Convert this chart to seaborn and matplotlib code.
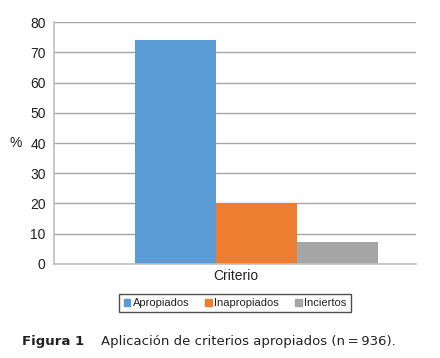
import numpy as np
import pandas as pd
import seaborn as sns
import matplotlib.pyplot as plt

# datos
CATEGORIA = ["Criterio"]
GRUPOS = ["Apropiados", "Inapropiados", "Inciertos"]
VALORES = [74.0, 20.2, 7.3]
COLORES = ["#5B9BD5", "#ED7D31", "#A5A5A5"]
YTICKS = [0, 10, 20, 30, 40, 50, 60, 70, 80]

df = pd.DataFrame({
    "categoria": CATEGORIA * len(GRUPOS),
    "grupo": GRUPOS,
    "valor": VALORES,
})

sns.set_style("white")
plt.rcParams["font.family"] = ["Liberation Sans", "DejaVu Sans"]

fig = plt.figure(figsize=(4.4, 3.58), dpi=100)
ax = fig.add_axes([0.1227, 0.2626, 0.8228, 0.6759])

sns.barplot(data=df, x="categoria", y="valor", hue="grupo",
            palette=COLORES, width=0.8, saturation=1, ax=ax,
            edgecolor="none", linewidth=0, legend=False)

ax.set_ylim(0, 80)
ax.set_yticks(YTICKS)
ax.set_xlim(-0.6667, 0.525)
ax.yaxis.grid(True, color="#A6A6A6", linewidth=1)
ax.set_axisbelow(True)
for s in ["top", "right"]:
    ax.spines[s].set_visible(False)
ax.spines["left"].set_color("#BFBFBF")
ax.spines["bottom"].set_color("#BFBFBF")
ax.spines["left"].set_linewidth(1.2)
ax.spines["bottom"].set_linewidth(1.2)

ax.set_xticks([-0.6667, 0.525])
ax.set_xticklabels(["", ""])
ax.tick_params(axis="x", length=4, color="#BFBFBF", width=1)
ax.tick_params(axis="y", length=4, color="#A6A6A6", width=1,
               labelsize=10, labelcolor="#222222", pad=2)
ax.set_xlabel("Criterio", fontsize=10, color="#222222", va="center")
ax.xaxis.set_label_coords(0.503, -0.05)
ax.set_ylabel("%", fontsize=10, rotation=0, color="#222222",
              va="center", ha="center")
ax.yaxis.set_label_coords(-0.107, 0.5)

# leyenda
handles = [plt.Rectangle((0, 0), 1, 1, color=c) for c in COLORES]
leg = fig.legend(handles, GRUPOS, loc="center", bbox_to_anchor=(0.534, 0.1536),
                 ncol=3, fontsize=8, frameon=True, fancybox=False,
                 handlelength=0.6, handleheight=0.6, handletextpad=0.2,
                 columnspacing=1.45, borderpad=0.4, labelcolor="#222222")
leg.get_frame().set_edgecolor("#222222")
leg.get_frame().set_linewidth(1.0)

# pie de figura
fig.text(0.05, 0.045, "Figura 1", fontsize=9.5, fontweight="bold",
         family="DejaVu Sans", color="#222222", va="center")
fig.text(0.23, 0.045, "Aplicación de criterios apropiados (n\u2009=\u2009936).",
         fontsize=9.5, family="DejaVu Sans", color="#222222", va="center")

fig.savefig("out.png", dpi=100)
